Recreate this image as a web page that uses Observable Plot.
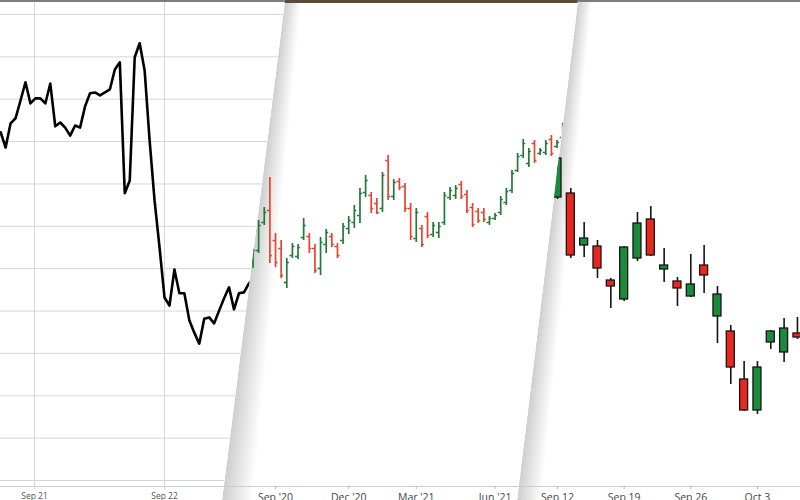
<!DOCTYPE html>
<html><head><meta charset="utf-8">
<script src="https://cdn.jsdelivr.net/npm/d3@7"></script>
<script src="https://cdn.jsdelivr.net/npm/@observablehq/plot@0.6"></script>
<style>
html,body{margin:0;padding:0;background:#fff;}
#stage{position:relative;width:800px;height:500px;overflow:hidden;font-family:"Open Sans",sans-serif;}
.page{position:absolute;left:0;top:0;width:800px;height:500px;background:#fff;}
.page svg{position:absolute;left:0;top:0;}
.strip{position:absolute;left:0;top:0;width:800px;}
#p2{clip-path:polygon(285px 0,578px 0,517px 500px,222px 500px);}
#p3{clip-path:polygon(578px 0,800px 0,800px 500px,517px 500px);}
</style></head><body>
<div id="stage">
  <div class="page" id="p1"></div>
  <div class="page" id="p2"></div>
  <div class="page" id="p3"></div>
</div>
<script>
// ---------- Left page: intraday line ----------
const lineStart = "2022-09-20T17:45:00Z";
const lineStepMinutes = 55;
const lineValues = [8.22, 7.86, 8.43, 8.55, 8.97, 9.40, 8.90, 9.02, 9.02, 8.90, 9.37, 8.36, 8.45, 8.33, 8.14, 8.38, 8.33, 8.83, 9.14, 9.16, 9.09, 9.16, 9.23, 9.70, 9.87, 6.78, 7.08, 9.99, 10.32, 9.68, 8.03, 6.61, 5.50, 4.32, 4.13, 4.98, 4.42, 4.42, 3.78, 3.49, 3.23, 3.82, 3.85, 3.71, 4.01, 4.30, 4.56, 4.04, 4.42, 4.44, 4.65, 4.78, 4.70];
const lineDayTicks = ["2022-09-21", "2022-09-22"];
const lineGridDays = ["2022-09-21", "2022-09-22", "2022-09-23"];
const lineGridValues = [0, 1, 2, 3, 4, 5, 6, 7, 8, 9, 10, 11];

// ---------- Middle page: weekly OHLC bars ----------
const weekFirst = "2020-08-10";
const weekEnd = "2021-09-06";
const wkOpen  = [162,168,182,188,173,169,152,165.5,165,174.5,175,169,159,171,175,170,173,179,182,185.5,197,195.5,191.5,189,213,195,202.5,200,189,174,179,185,176,177,182,194.5,195.5,201,196,189.5,187.5,187,182,184,187,192,198,208,215.5,211.5,221.5,216.5,217,223.5,220,224.5];
const wkHigh  = [169,183,189.5,204.5,176.5,173,164,171.5,171,184,176.5,171,174.5,178.5,176.5,171.5,181.5,185,190.5,199,205.5,197,194,207,215.5,203.5,204,201.5,191.5,189,180.5,187,182,182,197,199.5,200.5,202.5,198,191.5,189,189,185,186.5,195,199,208,216.5,223.5,219,223,219,223,225.5,223,231.5];
const wkLow   = [159,166.5,180.5,161.5,159.5,154,149,164,163.5,173,166.5,156.5,155.5,166.5,169.5,164,171,176,179,181.5,194.5,186.5,186,187,193,193,198,187,173,172,169.5,174,174.5,174,180.5,193,193.5,193.5,186.5,179.5,181.5,182,180.5,183,185.5,190.5,196.5,207,214,209.5,211.5,215.5,215.5,215,219,223];
const wkClose = [168,180.5,187,165.5,162,155.5,162,170,169.5,180.5,169,158,172,177,171,165.5,180,183,188,196.5,203,189,187,205.5,195,202,199.5,189,175,187,171,175.5,180.5,180,195.5,198,199,195,188,181,183,183.5,184,185.5,193.5,197.5,206.5,215,221.5,217.5,213,218,221.5,216.5,222,230];
const wkTicks = ["2020-09-07", "2020-12-07", "2021-03-01", "2021-06-07"];
const wkTickLabels = ["Sep '20", "Dec '20", "Mar '21", "Jun '21"];

// ---------- Right page: daily candlesticks ----------
const dayDates = ["2022-09-12","2022-09-13","2022-09-14","2022-09-15","2022-09-16","2022-09-19","2022-09-20","2022-09-21","2022-09-22","2022-09-23","2022-09-26","2022-09-27","2022-09-28","2022-09-29","2022-09-30","2022-10-03","2022-10-04","2022-10-05","2022-10-06"];
const dayOpen  = [158.9,159.3,154.1,154.0,150.6,148.7,152.8,156.7,151.7,150.5,149.0,152.1,147.0,145.5,140.7,137.6,144.4,143.4,145.3];
const dayHigh  = [163.1,159.8,156.4,154.6,150.8,154.0,157.4,158.0,153.8,150.9,153.2,154.1,150.0,146.1,142.5,142.5,145.6,146.8,146.9];
const dayLow   = [158.7,152.8,152.9,150.8,147.8,148.5,152.5,153.0,150.4,148.0,148.9,149.3,144.3,140.2,137.5,137.2,143.7,142.4,144.7];
const dayClose = [162.8,153.1,154.8,151.8,150.0,153.9,156.3,153.1,152.1,149.8,150.2,151.1,149.2,141.9,137.6,141.9,145.5,145.8,144.9];
const dayTicks = ["2022-09-12", "2022-09-19", "2022-09-26", "2022-10-03"];
const dayTickLabels = ["Sep 12", "Sep 19", "Sep 26", "Oct 3"];

// ---------- build tables ----------
const lineData = lineValues.map((v, i) => ({t: new Date(Date.parse(lineStart) + i * lineStepMinutes * 60000), v}));
const wkDates = d3.utcMonday.range(new Date(weekFirst), new Date(weekEnd)).map(d => d.toISOString().slice(0, 10));
const weekly = wkDates.map((d, i) => ({date: d, open: wkOpen[i], high: wkHigh[i], low: wkLow[i], close: wkClose[i]}));
const daily = dayDates.map((d, i) => ({date: d, open: dayOpen[i], high: dayHigh[i], low: dayLow[i], close: dayClose[i]}));

const FONT = "'Open Sans', sans-serif";
function bandLayout(center0, step, bw, n) {
  const p = 1 - bw / step;
  const r0 = center0 - step * (1 + p) / 2;
  return {range: [r0, r0 + step * (n + p)], padding: p};
}
function shade(svg, eTop, eBot, wTop, wBot) {
  const g = d3.create("svg:g");
  const N = 16;
  for (let i = 1; i <= N; i++) {
    g.append("polygon")
      .attr("points", `${eTop},0 ${eTop + wTop * i / N},0 ${eBot + wBot * i / N},500 ${eBot},500`)
      .attr("fill", "#000").attr("fill-opacity", 0.0105);
  }
  svg.insertBefore(g.node(), svg.firstChild);
}
function strip(page, h, color) {
  const s = document.createElement("div");
  s.className = "strip"; s.style.height = h + "px"; s.style.background = color;
  page.appendChild(s);
}

// ---------- left plot ----------
const t0 = Date.parse("2022-09-21T00:00:00Z"), dayMs = 864e5, pxPerDay = 130;
const yMinL = -0.1416;
const p1 = Plot.plot({
  width: 800, height: 500,
  marginLeft: 0, marginRight: 0, marginTop: 0, marginBottom: 14,
  style: {fontFamily: FONT, fontSize: "8.5px", color: "#555", background: "transparent"},
  x: {type: "utc", domain: [new Date(t0 - 34 / pxPerDay * dayMs), new Date(t0 + 766 / pxPerDay * dayMs)], axis: null},
  y: {domain: [yMinL, 11.33], axis: null},
  marks: [
    Plot.gridY(lineGridValues, {stroke: "#d6d6d6", strokeOpacity: 1, strokeWidth: 1}),
    Plot.gridX(lineGridDays.map(d => new Date(d)), {stroke: "#d6d6d6", strokeOpacity: 1, strokeWidth: 1}),
    Plot.ruleY([yMinL], {stroke: "#cfcfcf"}),
    Plot.axisX(lineDayTicks.map(d => new Date(d)), {tickSize: 3, tickPadding: 3, stroke: "#d0d0d0", label: null, tickFormat: d3.utcFormat("%b %-d")}),
    Plot.line(lineData, {x: "t", y: "v", stroke: "#000", strokeWidth: 2.6, strokeLinejoin: "round", curve: "linear"})
  ]
});
const page1 = document.getElementById("p1");
page1.appendChild(p1);
strip(page1, 1.5, "#7d7d7d");

// ---------- middle plot ----------
const midL = bandLayout(252.5, 5.63, 5, wkDates.length);
const midGreen = "#23793a", midRed = "#e5442f";
const midColor = d => d.close >= d.open ? midGreen : midRed;
const p2 = Plot.plot({
  width: 800, height: 500,
  marginLeft: 0, marginRight: 0, marginTop: 0, marginBottom: 14,
  style: {fontFamily: FONT, fontSize: "10.5px", color: "#444", background: "transparent"},
  x: {type: "band", domain: wkDates, range: midL.range, padding: midL.padding, align: 0.5, round: false, axis: null},
  y: {domain: [50, 293], axis: null},
  marks: [
    Plot.ruleY([50], {stroke: "#cdcdcd"}),
    Plot.axisX(wkTicks, {tickSize: 3, tickPadding: 4, stroke: "#b5b5b5", label: null, tickFormat: d => wkTickLabels[wkTicks.indexOf(d)]}),
    Plot.ruleX(weekly, {x: "date", y1: "low", y2: "high", stroke: midColor, strokeWidth: 1.7}),
    Plot.tickY(weekly, {x: "date", y: "open", stroke: midColor, strokeWidth: 1.7, insetRight: 2.5}),
    Plot.tickY(weekly, {x: "date", y: "close", stroke: midColor, strokeWidth: 1.7, insetLeft: 2.5})
  ]
});
shade(p2, 285, 222, 16, 30);
const page2 = document.getElementById("p2");
page2.appendChild(p2);
strip(page2, 2.5, "#5e4a3a");

// ---------- right plot ----------
const rightL = bandLayout(557, 13.33, 8, dayDates.length);
const candleGreen = "#1b8a3c", candleRed = "#e8281e";
const p3 = Plot.plot({
  width: 800, height: 500,
  marginLeft: 0, marginRight: 0, marginTop: 0, marginBottom: 14,
  style: {fontFamily: FONT, fontSize: "10.5px", color: "#444", background: "transparent"},
  x: {type: "band", domain: dayDates, range: rightL.range, padding: rightL.padding, align: 0.5, round: false, axis: null},
  y: {domain: [130, 178.6], axis: null},
  marks: [
    Plot.ruleY([130], {stroke: "#cdcdcd"}),
    Plot.axisX(dayTicks, {tickSize: 3, tickPadding: 4, stroke: "#b5b5b5", label: null, tickFormat: d => dayTickLabels[dayTicks.indexOf(d)]}),
    Plot.ruleX(daily, {x: "date", y1: "low", y2: "high", stroke: "#151515", strokeWidth: 1.6}),
    Plot.barY(daily, {x: "date", y1: "open", y2: "close", fill: d => d.close >= d.open ? candleGreen : candleRed, stroke: "#151515", strokeWidth: 1.3})
  ]
});
shade(p3, 578, 517, 14, 24);
const page3 = document.getElementById("p3");
page3.appendChild(p3);
strip(page3, 1.5, "#7d7d7d");
</script>
</body></html>
